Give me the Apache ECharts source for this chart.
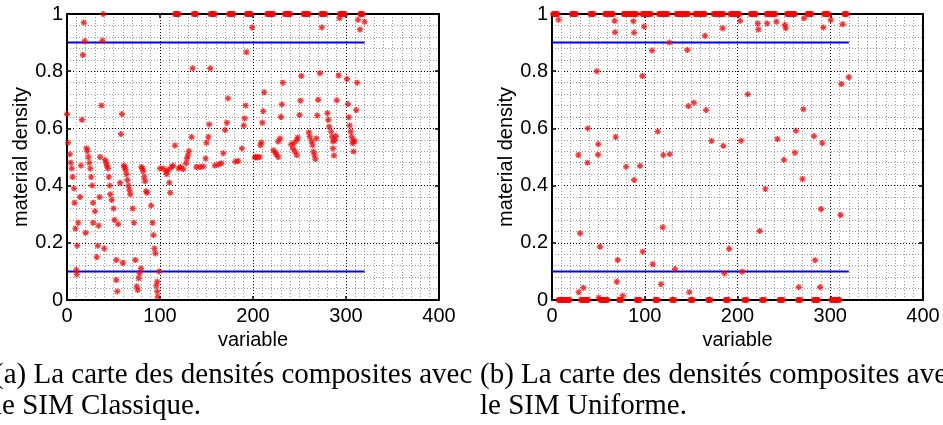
<!DOCTYPE html>
<html>
<head>
<meta charset="utf-8">
<script src="https://cdn.jsdelivr.net/npm/echarts@6/dist/echarts.min.js"></script>
<style>
html, body { margin: 0; padding: 0; background: #fff; }
#chart { width: 943px; height: 425px; }
</style>
</head>
<body>
<div id="chart"></div>
<script>
// ── Data ────────────────────────────────────────────────────────────────────
// (a) SIM Classique: variables sitting at density 1
const leftTopX = [39, 116, 117, 118, 119, 120, 136, 137, 138, 139, 154, 155, 156, 157, 158, 159,
    174, 175, 176, 177, 178, 179, 193, 194, 195, 196, 197, 198, 215, 216, 217, 218, 219, 220, 221, 222,
    234, 235, 236, 237, 238, 239, 240, 254, 255, 256, 257, 258, 259, 260, 273, 274, 275, 276, 277, 278,
    293, 294, 295, 296, 297, 298, 299, 315, 316, 317, 318];
// (a) intermediate densities [variable, density]
const leftMid = [
    [0, 0.65], [1, 0.55], [3, 0.51], [4, 0.48], [5, 0.46], [6, 0.43], [7.5, 0.39], [8, 0.34], [9, 0.25],
    [10, 0.105], [10.5, 0.09], [11, 0.19], [12, 0.27], [14, 0.36], [15, 0.47], [16, 0.63], [17, 0.857],
    [18, 0.97], [19, 0.905], [20, 0.235], [21, 0.53], [22, 0.52], [23, 0.5], [24, 0.48], [25, 0.46],
    [26, 0.43], [27, 0.4], [28, 0.34], [30, 0.31], [28, 0.27], [32, 0.15], [33, 0.19], [34, 0.26],
    [35, 0.36], [35.5, 0.5], [37, 0.68], [38, 0.907], [40, 0.18], [41, 0.49], [42, 0.48], [43, 0.47],
    [44, 0.46], [45, 0.43], [46, 0.4], [46.5, 0.37], [48, 0.35], [50, 0.32], [51, 0.28], [53, 0.14],
    [53, 0.07], [54, 0.03], [55, 0.265], [57, 0.41], [58, 0.58], [59, 0.65], [60, 0.13], [61, 0.47],
    [62, 0.465], [63, 0.455], [64, 0.44], [65, 0.42], [66, 0.4], [67, 0.385], [68, 0.37], [70.6, 0.32],
    [72, 0.27], [73.5, 0.14], [75, 0.047], [76, 0.035], [77, 0.076], [78, 0.093], [79.5, 0.11],
    [80, 0.465], [81, 0.46], [82, 0.45], [83, 0.43], [84, 0.415], [85, 0.38], [86, 0.375], [90.5, 0.33],
    [92, 0.27], [93, 0.227], [94, 0.18], [95, 0.163], [96, 0.05], [97, 0.064], [97, 0.03], [97.5, 0.012],
    [99, 0.1], [100, 0.46], [103.5, 0.46], [106.5, 0.45], [107, 0.44], [109, 0.455], [110, 0.41],
    [111, 0.375], [112.5, 0.465], [114, 0.47], [116, 0.54], [120, 0.46], [122, 0.465], [125, 0.458],
    [128, 0.478], [129, 0.495], [130, 0.507], [131, 0.52], [134, 0.57], [135, 0.81], [139, 0.465],
    [143, 0.465], [146.5, 0.467], [149, 0.495], [150, 0.55], [152, 0.57], [153, 0.614], [154, 0.81],
    [159, 0.47], [163, 0.474], [166, 0.478], [168, 0.513], [170, 0.594], [172, 0.62], [173, 0.705],
    [181, 0.484], [184, 0.486], [188, 0.53], [190, 0.61], [191, 0.635], [192, 0.68], [193, 0.866],
    [199, 0.953], [202, 0.498], [203, 0.501], [205, 0.498], [207, 0.5], [208, 0.542], [209, 0.551],
    [210, 0.62], [211, 0.66], [212, 0.726], [222, 0.524], [224, 0.516], [225, 0.509], [227, 0.5],
    [227, 0.554], [229, 0.565], [230, 0.64], [231, 0.684], [232, 0.76], [241, 0.544], [243, 0.53],
    [244, 0.548], [245, 0.519], [247, 0.507], [247, 0.559], [248, 0.568], [250, 0.647], [251, 0.697],
    [252, 0.783], [260, 0.586], [261, 0.571], [263, 0.556], [264, 0.542], [265, 0.519], [266, 0.507],
    [267, 0.493], [268, 0.565], [269, 0.645], [270, 0.7], [272, 0.793], [274, 0.953], [280, 0.653],
    [281, 0.63], [282, 0.606], [284, 0.589], [285, 0.571], [286, 0.554], [286, 0.53], [287, 0.505],
    [288, 0.56], [289, 0.573], [290, 0.698], [292, 0.785], [293, 0.985], [301, 0.773], [302, 0.685],
    [303, 0.639], [304, 0.61], [305, 0.589], [306, 0.571], [307, 0.548], [308, 0.559], [308, 0.519],
    [309, 0.554], [311, 0.664], [312, 0.76], [313, 0.98], [315, 0.946], [320, 0.973]
];

// (b) SIM Uniforme: variables at density 1 and at density 0
const rightTopX = [1, 2, 3, 4, 5, 6, 21, 22, 23, 24, 25, 26, 41, 42, 43, 44, 45,
    57, 58, 59, 60, 61, 62, 63, 64, 65, 66, 77, 78, 79, 80, 81, 82, 83, 84, 85, 86, 87, 88, 89, 90, 91,
    97, 98, 99, 100, 101, 102, 103, 104, 105, 106, 107, 115, 116, 117, 118, 119, 120, 121, 122, 123, 124, 125,
    134, 135, 136, 137, 138, 139, 140, 141, 142, 143, 144, 145, 146, 147,
    154, 155, 156, 157, 158, 159, 160, 161, 162, 163, 164, 165, 174, 175, 176, 177, 178, 179, 180, 181, 182, 183, 184, 185,
    192, 193, 194, 195, 196, 197, 198, 199, 200, 201, 202, 214, 215, 216, 217, 218, 219, 220,
    231, 232, 233, 234, 235, 236, 237, 238, 239, 240, 241, 253, 254, 255, 256, 257, 258, 259, 260, 261, 262,
    275, 276, 277, 278, 279, 280, 293, 294, 295, 296, 297, 298, 315, 316, 317, 318];
const rightBottomX = [7, 8, 9, 10, 11, 12, 13, 14, 15, 16, 17, 18, 19, 31, 32, 33, 34, 35, 36, 37, 38, 39,
    52, 53, 54, 55, 56, 57, 58, 59, 60, 72, 73, 74, 75, 91, 92, 93, 94, 95, 111, 112, 113, 114,
    129, 130, 131, 132, 149, 150, 151, 152, 168, 169, 170, 171, 187, 188, 189, 190, 207, 208, 209, 210,
    226, 227, 228, 229, 245, 246, 247, 248, 249, 265, 266, 267, 268, 282, 283, 284, 285, 286, 287,
    301, 302, 303, 304, 305, 306, 307, 308, 309, 310];
// (b) intermediate densities [variable, density]
const rightMid = [
    [7, 0.98], [28.4, 0.507], [38.1, 0.48], [38.5, 0.6], [48.2, 0.8], [49.9, 0.545], [49.6, 0.508],
    [67.9, 0.936], [67.5, 0.976], [68.6, 0.57], [79.8, 0.466], [87.7, 0.975], [88.4, 0.935], [88.4, 0.42],
    [94.9, 0.469], [97.4, 0.783], [99.2, 0.956], [107.8, 0.872], [113.9, 0.589], [120, 0.507],
    [126.9, 0.51], [126.5, 0.9], [145.9, 0.874], [147, 0.678], [153, 0.69], [165, 0.924], [166, 0.664],
    [172, 0.556], [184, 0.95], [184.7, 0.539], [202.7, 0.976], [203.8, 0.557], [211, 0.719],
    [221.8, 0.967], [222.5, 0.946], [232, 0.967], [242, 0.973], [243, 0.563], [250, 0.49], [251, 0.962],
    [252, 0.95], [262, 0.515], [263, 0.592], [271, 0.667], [271.7, 0.985], [282.5, 0.573], [291.4, 0.549],
    [292.5, 0.953], [300.5, 0.979], [312, 0.755], [313.4, 0.964], [320, 0.779],
    [230, 0.388], [270, 0.423], [290, 0.318], [311, 0.297], [224, 0.241], [191, 0.179], [283.6, 0.139],
    [185.8, 0.093], [205, 0.099], [266, 0.045], [289, 0.045], [30.2, 0.233], [119.3, 0.254], [51.7, 0.186],
    [97.8, 0.169], [70.8, 0.14], [108.5, 0.125], [132.6, 0.108], [69.8, 0.064], [117.5, 0.055],
    [148, 0.027], [33.8, 0.043], [28.7, 0.027], [76.2, 0.015], [50.3, 0.008]
];

// bounds drawn in blue
const bounds = [0.1, 0.9];
const boundsEndX = 320;

const captionA = ['(a) La carte des densités composites avec', 'le SIM Classique.'];
const captionB = ['(b) La carte des densités composites avec', 'le SIM Uniforme.'];

// ── Styling helpers ─────────────────────────────────────────────────────────
const SANS = 'Liberation Sans';
const star = 'path://M0 3.6L10 3.6L10 6.4L0 6.4Z M3.6 0L6.4 0L6.4 10L3.6 10Z M1.5 0.5L9.5 8.5L8.5 9.5L0.5 1.5Z M8.5 0.5L9.5 1.5L1.5 9.5L0.5 8.5Z';
const axisLine = { show: true, onZero: false, lineStyle: { color: '#000', width: 2 } };
const tick = { show: true, inside: true, length: 4, lineStyle: { color: '#000', width: 1.5 } };
const majorGrid = { show: true, lineStyle: { color: '#000', width: 1, type: [1, 2] } };
const minorGrid = { show: true, lineStyle: { color: '#9a9a9a', width: 1, type: [1, 2] } };

function xAxes(g) {
    return [{
        gridIndex: g, type: 'value', position: 'bottom', min: 0, max: 400, interval: 100,
        name: 'variable', nameLocation: 'middle', nameGap: 27,
        nameTextStyle: { fontFamily: SANS, fontSize: 20, color: '#000' },
        axisLine: axisLine, axisTick: tick,
        axisLabel: { margin: 6, fontFamily: SANS, fontSize: 20, color: '#000' },
        splitLine: majorGrid,
        minorTick: { show: false, splitNumber: 10 },
        minorSplitLine: minorGrid
    }, {
        gridIndex: g, type: 'value', position: 'top', min: 0, max: 400, interval: 100,
        axisLine: axisLine, axisTick: tick, axisLabel: { show: false }, splitLine: { show: false }
    }];
}

function yAxes(g) {
    return [{
        gridIndex: g, type: 'value', position: 'left', min: 0, max: 1, interval: 0.2,
        name: 'material density', nameLocation: 'middle', nameGap: 36,
        nameTextStyle: { fontFamily: SANS, fontSize: 20, color: '#000' },
        axisLine: axisLine, axisTick: tick,
        axisLabel: { margin: 4, fontFamily: SANS, fontSize: 20, color: '#000' },
        splitLine: majorGrid,
        minorTick: { show: false, splitNumber: 5 },
        minorSplitLine: minorGrid
    }, {
        gridIndex: g, type: 'value', position: 'right', min: 0, max: 1, interval: 0.2,
        axisLine: axisLine, axisTick: tick, axisLabel: { show: false }, splitLine: { show: false }
    }];
}

function plotSeries(axisIdx, pts) {
    const out = bounds.map(b => ({
        type: 'line', xAxisIndex: axisIdx, yAxisIndex: axisIdx,
        data: [[0, b], [boundsEndX, b]], showSymbol: false, silent: true, z: 3,
        lineStyle: { color: '#0000ff', width: 2 }
    }));
    out.push({
        type: 'scatter', xAxisIndex: axisIdx, yAxisIndex: axisIdx, data: pts, clip: false, z: 4,
        symbol: star, symbolSize: 6, itemStyle: { color: '#ff0000' }
    });
    return out;
}

const leftPts = leftMid.concat(leftTopX.map(x => [x, 1]));
const rightPts = rightMid.concat(rightTopX.map(x => [x, 1]), rightBottomX.map(x => [x, 0]));

const captionFont = '29px "Liberation Serif"';
function caption(x, lines) {
    return {
        type: 'text', x: x, y: 360, silent: true,
        style: { text: lines.join('\n'), font: captionFont, fill: '#000', lineHeight: 31, align: 'left', verticalAlign: 'top' }
    };
}

// ── Chart ───────────────────────────────────────────────────────────────────
const chart = echarts.init(document.getElementById('chart'), null, { renderer: 'canvas' });
chart.setOption({
    animation: false,
    backgroundColor: '#fff',
    grid: [
        { left: 67, top: 14, width: 372, height: 286 },
        { left: 552, top: 14, width: 371, height: 286 }
    ],
    xAxis: xAxes(0).concat(xAxes(1)),
    yAxis: yAxes(0).concat(yAxes(1)),
    series: plotSeries(0, leftPts).concat(plotSeries(2, rightPts)),
    graphic: [caption(-6, captionA), caption(480, captionB)]
});
</script>
</body>
</html>
